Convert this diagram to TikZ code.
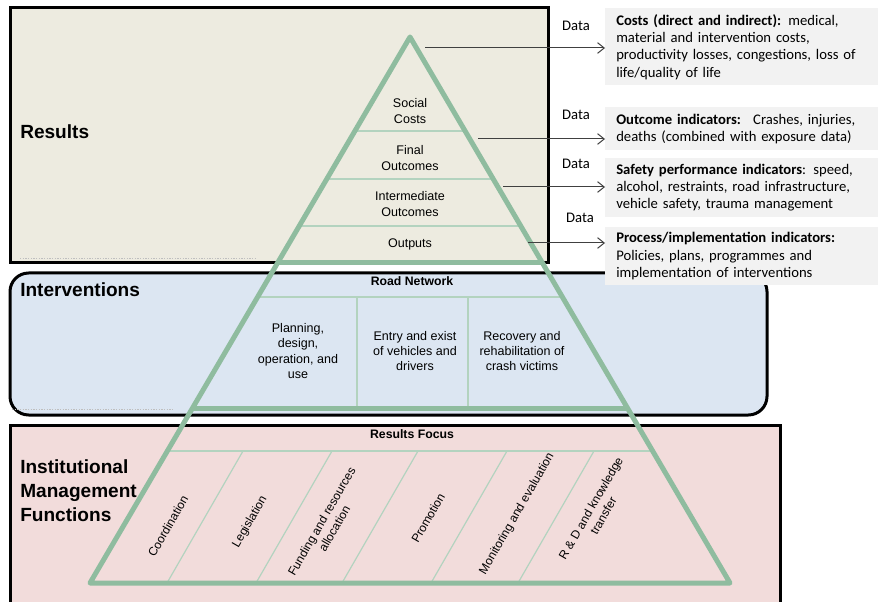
\documentclass[tikz,border=0pt]{standalone}
\usepackage{fontspec}
\setmainfont{Liberation Sans}
\newfontfamily\calibrifont{Carlito}
\usepackage{xcolor}
\usepackage{tikz}
\usetikzlibrary{
    arrows.meta,
    positioning,
    calc
}
\definecolor{pyrgreen}{HTML}{8FBC9F}
\definecolor{pyrlight}{HTML}{B3D3BF}
\definecolor{resultsfill}{HTML}{EDEBE0}
\definecolor{interfill}{HTML}{DCE6F2}
\definecolor{instfill}{HTML}{F2DCDB}
\definecolor{infogray}{HTML}{F2F2F2}
\definecolor{arrowgray}{HTML}{404040}
\tikzset{
    % Region frame
    regionframe/.style={
        draw=black,
        line width=2.25pt,
        fill=#1
    },
    % Region title
    regiontitle/.style={
        anchor=west,
        align=left,
        font=\fontsize{14.3}{18}\selectfont\bfseries,
        inner sep=0pt
    },
    % Pyramid outline
    pyrline/.style={
        draw=pyrgreen,
        line width=3.75pt,
        line join=round
    },
    % Pyramid divider
    pyrdivider/.style={
        draw=pyrlight,
        line width=0.9pt
    },
    % Level label
    levellabel/.style={
        align=center,
        font=\fontsize{9.4}{11.4}\selectfont,
        inner sep=0pt
    },
    % Level header
    levelheader/.style={
        levellabel,
        font=\fontsize{9.2}{11.4}\selectfont\bfseries
    },
    % Slanted function label
    funclabel/.style={
        levellabel,
        font=\fontsize{9}{11}\selectfont,
        rotate=60
    },
    % Indicator box
    infobox/.style={
        fill=infogray,
        anchor=north west,
        align=left,
        text width=188.25pt,
        inner xsep=8.25pt,
        inner ysep=0pt,
        font=\calibrifont\fontsize{11}{13}\selectfont
    },
    % Data label
    datalabel/.style={
        font=\calibrifont\fontsize{11}{13}\selectfont,
        inner sep=0pt
    },
    % Data arrow
    dataarrow/.style={
        -{Straight Barb[length=5pt,width=8pt]},
        draw=arrowgray,
        line width=0.75pt
    },
    % Faint rule
    faintrule/.style={
        draw=black!25,
        dashed,
        dash pattern=on 1pt off 1pt,
        line width=0.4pt
    }
}

\begin{document}
\begin{tikzpicture}[x=0.75pt, y=-0.75pt]
    \useasboundingbox (0,0) rectangle (878,602);

    % Regions
    \draw[regionframe=resultsfill] (10,8) rectangle (548,263);
    \draw[regionframe=interfill, rounded corners=14pt] (10,273) rectangle (767,415);
    \draw[regionframe=instfill] (10,425) rectangle (780,630);
    \draw[faintrule] (20,258) -- (257,258);
    \draw[faintrule] (12,409) -- (173,409);

    \node[regiontitle] (results) at (20,132) {Results};
    \node[regiontitle] (interventions) at (20,290) {Interventions};
    \node[regiontitle] (institutional) at (20,491) {Institutional\\Management\\Functions};

    % Pyramid
    \coordinate (apex) at (410,37);
    \coordinate (baseL) at (90,583);
    \coordinate (baseR) at (730,583);

    \foreach \t in {0.1722,0.2601,0.3462,0.4762,0.7582}
        \draw[pyrdivider] ($(apex)!\t!(baseL)$) -- ($(apex)!\t!(baseR)$);
    \draw[pyrdivider] (357,297) -- (357,408);
    \draw[pyrdivider] (468,297) -- (468,408);
    \foreach \x in {243,332,418,507,594}
        \draw[pyrdivider] (\x,451) -- (\x-76,583);

    \node[levellabel] (social) at (410,111) {Social\\Costs};
    \node[levellabel] (final) at (410,158) {Final\\Outcomes};
    \node[levellabel] (intermediate) at (410,204) {Intermediate\\Outcomes};
    \node[levellabel] (outputs) at (410,244) {Outputs};

    \node[levelheader] (road) at (412,281) {Road Network};
    \node[levellabel] (planning) at (298,351) {Planning,\\design,\\operation, and\\use};
    \node[levellabel] (entry) at (415,351) {Entry and exist\\of vehicles and\\drivers};
    \node[levellabel] (recovery) at (522,351) {Recovery and\\rehabilitation of\\crash victims};

    \node[levelheader] (focus) at (412,434) {Results Focus};
    \node[funclabel] (coordination) at (168,526) {Coordination};
    \node[funclabel] (legislation) at (250,522) {Legislation};
    \node[funclabel] (funding) at (328,525) {Funding and resources\\allocation};
    \node[funclabel] (promotion) at (428,518) {Promotion};
    \node[funclabel] (monitoring) at (517,514) {Monitoring and evaluation};
    \node[funclabel] (research) at (597,512) {R \& D and knowledge\\transfer};

    \draw[pyrline] (apex) -- (baseL) -- (baseR) -- cycle;
    \foreach \t in {0.4121,0.6795}
        \draw[pyrline] ($(apex)!\t!(baseL)$) -- ($(apex)!\t!(baseR)$);

    % Indicators
    \node[infobox, minimum height=57.75pt] (costs) at (605,8)
        {\textbf{Costs (direct and indirect):} medical,\\material and intervention costs,\\productivity losses, congestions, loss of\\life/quality of life};
    \node[infobox, minimum height=32.25pt] (outcome) at (605,107)
        {\textbf{Outcome indicators:}~ Crashes, injuries,\\deaths (combined with exposure data)};
    \node[infobox, minimum height=44.25pt] (safety) at (605,158)
        {\textbf{Safety performance indicators}: speed,\\alcohol, restraints, road infrastructure,\\vehicle safety, trauma management};
    \node[infobox, minimum height=43.5pt] (process) at (605,227)
        {\textbf{Process/implementation indicators:}\\Policies, plans, programmes and\\implementation of interventions};

    % Data flows
    \coordinate (src1) at (425,48);
    \coordinate (src2) at (478,139);
    \coordinate (src3) at (503,187);
    \coordinate (src4) at (528,243);
    \draw[dataarrow] (src1) -- (src1 -| costs.west);
    \draw[dataarrow] (src2) -- (src2 -| outcome.west);
    \draw[dataarrow] (src3) -- (src3 -| safety.west);
    \draw[dataarrow] (src4) -- (src4 -| process.west);

    \node[datalabel] (data1) at (576,26) {Data};
    \node[datalabel] (data2) at (576,115) {Data};
    \node[datalabel] (data3) at (576,164) {Data};
    \node[datalabel] (data4) at (580,218) {Data};

\end{tikzpicture}
\end{document}
